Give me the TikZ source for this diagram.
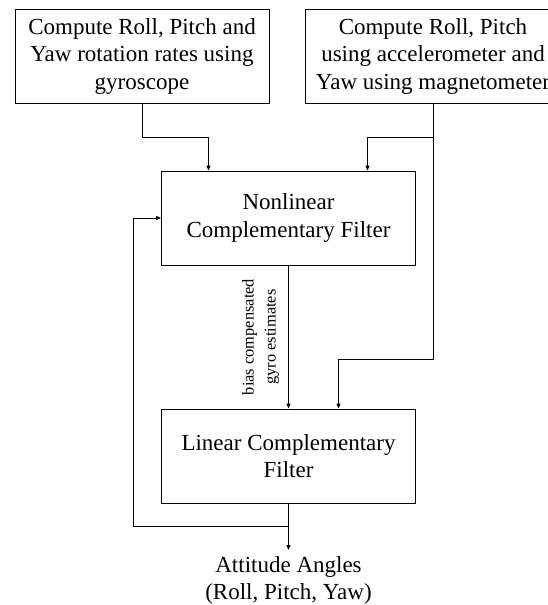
\documentclass[tikz,border=0pt]{standalone}
\usepackage{fontspec}
\setmainfont{Liberation Serif}
\usetikzlibrary{arrows.meta,positioning}

\tikzset{
    blk/.style={draw,line width=0.9pt,minimum width=254pt,minimum height=94pt,
        align=center,inner sep=0pt,font=\fontsize{23}{27.7}\selectfont},
    flow/.style={line width=0.9pt},
    tip/.style={flow,-{Triangle[length=5pt,width=4pt]}},
}

\begin{document}
\begin{tikzpicture}[x=1pt,y=-1pt]
    \useasboundingbox (0,0) rectangle (548,605);

    % sensors
    \node[blk] (gyro) at (142,56.5) {Compute Roll, Pitch and\\Yaw rotation rates using\\gyroscope};
    \node[blk,minimum width=256pt] (accmag) at (433,56.5) {Compute Roll, Pitch\\using accelerometer and\\Yaw using magnetometer};

    % filters
    \node[blk] (ncf) at (288.5,218) {Nonlinear\\Complementary Filter};
    \node[blk] (lcf) at (288.5,456) {Linear Complementary\\Filter};
    \node[align=center,anchor=north,inner sep=6pt,font=\fontsize{23}{27.7}\selectfont]
        (out) at (288.5,550) {Attitude Angles\\(Roll, Pitch, Yaw)};

    \draw[tip] (gyro.south) -- ++(0,33) -| ([xshift=-80pt]ncf.north);
    \draw[flow] (accmag.south) -- ++(0,33) coordinate (split);
    \draw[tip] (split) -| ([xshift=79pt]ncf.north);
    \draw[tip] (split) -- ++(0,222) -| ([xshift=50pt]lcf.north);

    \draw[tip] (ncf.south) -- node[rotate=90,anchor=south,inner sep=9pt,align=center,
        font=\fontsize{16.4}{22}\selectfont] (bias) {bias compensated\\gyro estimates} (lcf.north);

    \draw[flow] (lcf.south) -- ++(0,23) coordinate (tap);
    \draw[tip] (tap) -- (out.north);
    \draw[tip] (tap) -| ([xshift=-28pt]ncf.west) -- (ncf.west);
\end{tikzpicture}
\end{document}
